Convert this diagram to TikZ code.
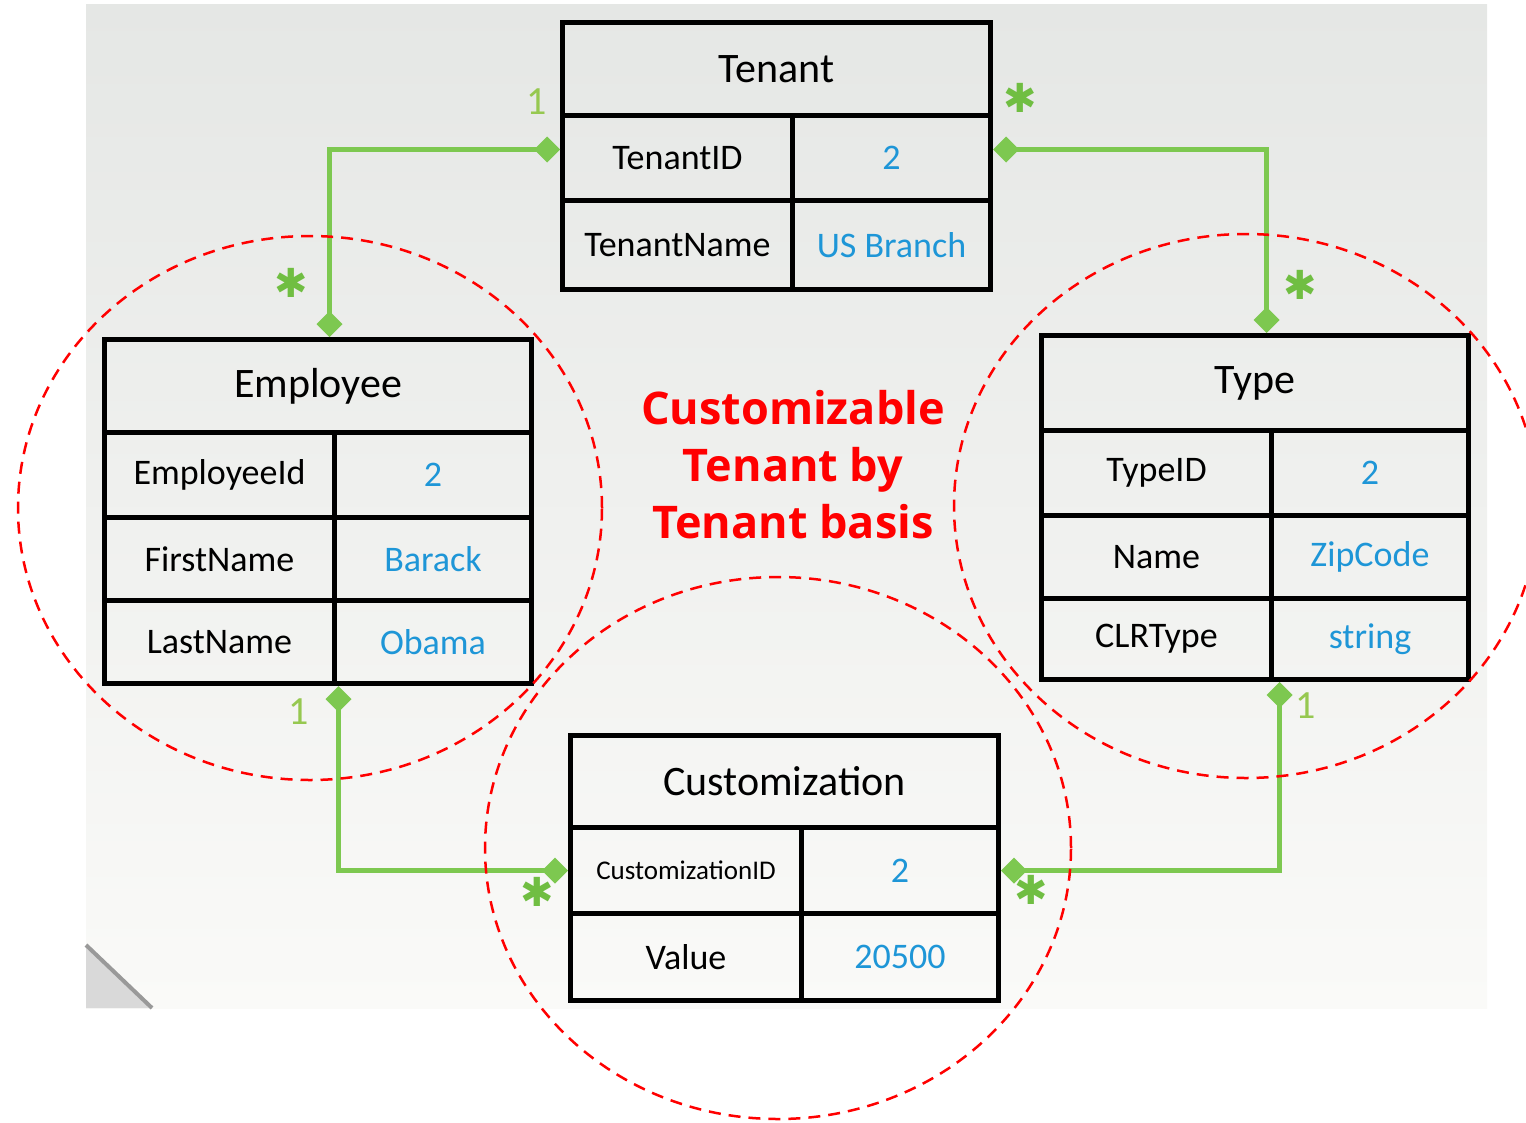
\documentclass[tikz,border=0pt]{standalone}
\usepackage{fontspec}
\setmainfont{Carlito}
\newfontfamily\notefont{Open Sans}
\newfontfamily\symfont{DejaVu Sans}
\usetikzlibrary{arrows.meta}
\definecolor{linkgreen}{RGB}{125,200,80}
\definecolor{stargreen}{RGB}{112,190,66}
\definecolor{onegreen}{RGB}{150,200,80}
\definecolor{valblue}{RGB}{30,150,215}
\definecolor{bgtop}{RGB}{229,231,229}
\definecolor{bgbot}{RGB}{250,250,248}
\tikzset{
  cell/.style={draw=black, line width=5pt, rectangle, inner sep=0pt, anchor=north west,
    font=\fontsize{36}{40}\selectfont},
  headcell/.style={cell, font=\fontsize{42}{46}\selectfont},
  val/.style={text=valblue},
  conn/.style={draw=linkgreen, line width=5pt, {Diamond[length=26pt,width=26pt,fill=linkgreen]}-{Diamond[length=26pt,width=26pt,fill=linkgreen]}},
  many/.style={text=stargreen, font=\symfont\fontsize{40}{40}\selectfont},
  one/.style={text=onegreen, font=\fontsize{40}{40}\selectfont},
  zone/.style={draw=red, line width=2.5pt, dash pattern=on 12pt off 8pt},
}
\begin{document}
\begin{tikzpicture}[x=1pt,y=-1pt]
\useasboundingbox (0,0) rectangle (1526,1122);
\clip (0,0) rectangle (1526,1122);
% photo backdrop
\shade[top color=bgtop, bottom color=bgbot] (86,4) rectangle (1487,1008);
% corner of a sheet of paper at the lower left
\fill[gray!30] (86,945) -- (152,1008) -- (86,1008) -- cycle;
\draw[gray!80, line width=4pt] (86,945) -- (152,1008);

% Tenant table
\node[headcell, minimum width=428pt, minimum height=93pt] (tenant) at (560,20) {Tenant};
\node[cell, minimum width=230pt, minimum height=85pt] (tid) at (560,113) {TenantID};
\node[cell, val, minimum width=198pt, minimum height=85pt] (tidv) at (790,113) {2};
\node[cell, minimum width=230pt, minimum height=89pt] (tname) at (560,198) {TenantName};
\node[cell, val, minimum width=198pt, minimum height=89pt] (tnamev) at (790,198) {US Branch};

% Employee table
\node[headcell, minimum width=427pt, minimum height=93pt] (emp) at (102,337) {Employee};
\node[cell, minimum width=230pt, minimum height=85pt] (eid) at (102,430) {EmployeeId};
\node[cell, val, minimum width=197pt, minimum height=85pt] (eidv) at (332,430) {2};
\node[cell, minimum width=230pt, minimum height=83pt] (efn) at (102,515) {FirstName};
\node[cell, val, minimum width=197pt, minimum height=83pt] (efnv) at (332,515) {Barack};
\node[cell, minimum width=230pt, minimum height=83pt] (eln) at (102,598) {LastName};
\node[cell, val, minimum width=197pt, minimum height=83pt] (elnv) at (332,598) {Obama};

% Type table
\node[headcell, minimum width=427pt, minimum height=95pt] (type) at (1039,333) {Type};
\node[cell, minimum width=230pt, minimum height=85pt] (tyid) at (1039,428) {TypeID};
\node[cell, val, minimum width=197pt, minimum height=85pt] (tyidv) at (1269,428) {2};
\node[cell, minimum width=230pt, minimum height=83pt] (tyname) at (1039,513) {Name};
\node[cell, val, minimum width=197pt, minimum height=83pt] (tynamev) at (1269,513) {ZipCode};
\node[cell, minimum width=230pt, minimum height=81pt] (tyclr) at (1039,596) {CLRType};
\node[cell, val, minimum width=197pt, minimum height=81pt] (tyclrv) at (1269,596) {string};

% Customization table
\node[headcell, minimum width=428pt, minimum height=92pt] (cust) at (568,733) {Customization};
\node[cell, minimum width=231pt, minimum height=86pt, font=\fontsize{27}{30}\selectfont] (cid) at (568,825) {CustomizationID};
\node[cell, val, minimum width=197pt, minimum height=86pt] (cidv) at (799,825) {2};
\node[cell, minimum width=231pt, minimum height=87pt] (cval) at (568,911) {Value};
\node[cell, val, minimum width=197pt, minimum height=87pt] (cvalv) at (799,911) {20500};

% relationships
\draw[conn] ([yshift=8.5pt]tid.west) -| ([xshift=11.5pt]emp.north);
\draw[conn] ([yshift=8.5pt]tidv.east) -| ([xshift=11.5pt]type.north);
\draw[conn] ([xshift=6.5pt]elnv.south west) |- (cid.west);
\draw[conn] ([xshift=10.5pt]tyclrv.south west) |- (cidv.east);

% multiplicities
\node[one] (m1) at (537,102) {1};
\node[many] (m2) at (291,283) {✱};
\node[many] (m3) at (1020,98) {✱};
\node[many] (m4) at (1300,285) {✱};
\node[one] (m5) at (299,712) {1};
\node[many] (m6) at (537,892) {✱};
\node[one] (m7) at (1306,706) {1};
\node[many] (m8) at (1031,890) {✱};

% customization zones
\draw[zone] (310,508) ellipse [x radius=292pt, y radius=272pt];
\draw[zone] (1246,506) ellipse [x radius=292pt, y radius=272pt];
\draw[zone] (778,848) ellipse [x radius=293pt, y radius=271pt];

\node[text=red, align=center, font=\notefont\bfseries\fontsize{45}{57}\selectfont] (note) at (793,465)
  {Customizable\\Tenant by\\Tenant basis};
\end{tikzpicture}
\end{document}
